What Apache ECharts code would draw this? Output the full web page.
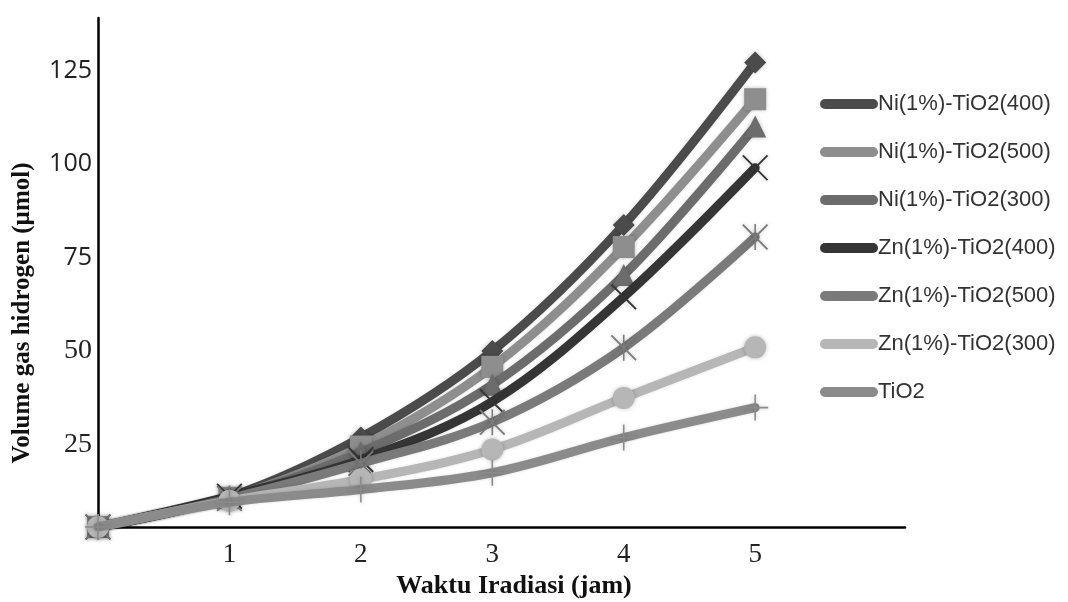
<!DOCTYPE html>
<html>
<head>
<meta charset="utf-8">
<script src="https://cdn.jsdelivr.net/npm/echarts@6/dist/echarts.min.js"></script>
<style>html,body{margin:0;padding:0;background:#fff}#c{width:1068px;height:602px}</style>
</head>
<body>
<div id="c"></div>
<script>
var hours = [0, 1, 2, 3, 4, 5];
var xTickLabels = [1, 2, 3, 4, 5];
var yTickLabels = [25, 50, 75, 100, 125];
var seriesNames = ['Ni(1%)-TiO2(400)', 'Ni(1%)-TiO2(500)', 'Ni(1%)-TiO2(300)', 'Zn(1%)-TiO2(400)', 'Zn(1%)-TiO2(500)', 'Zn(1%)-TiO2(300)', 'TiO2'];
var ni400 = [3, 11.0, 26.9, 50.0, 83.7, 127.1];
var ni500 = [3, 10.8, 24.5, 45.8, 77.8, 117.3];
var ni300 = [3, 10.8, 23.0, 41.0, 70.3, 110.0];
var zn400 = [3, 11.2, 21.0, 36.5, 64.5, 99.0];
var zn500 = [3, 10.6, 20.0, 31.0, 50.9, 80.5];
var zn300 = [3, 10.0, 15.7, 23.7, 37.5, 51.0];
var tio2 = [3, 9.6, 13.0, 17.5, 26.9, 34.9];

var seriesValues = [ni400, ni500, ni300, zn400, zn500, zn300, tio2];
var colors = ['#4b4b4b', '#8e8e8e', '#6c6c6c', '#353535', '#7a7a7a', '#b6b6b6', '#8b8b8b'];
var X = 'path://M0,5 L5,0 L50,45 L95,0 L100,5 L55,50 L100,95 L95,100 L50,55 L5,100 L0,95 L45,50 Z';
var AST = 'path://M0,5 L5,0 L50,45 L95,0 L100,5 L55,50 L100,95 L95,100 L50,55 L5,100 L0,95 L45,50 Z M47,0 L53,0 L53,100 L47,100 Z';
var PLUS = 'path://M47,0 L53,0 L53,47 L100,47 L100,53 L53,53 L53,100 L47,100 L47,53 L0,53 L0,47 L47,47 Z';
var symbols = ['diamond', 'rect', 'triangle', X, AST, 'circle', PLUS];
var symbolSizes = [22, 22, 22, 26, 26, 22, 26];

var chart = echarts.init(document.getElementById('c'), null, {renderer: 'canvas'});
var series = seriesNames.map(function (name, i) {
  return {
    name: name,
    type: 'line',
    smooth: 0.35,
    data: hours.map(function (h, j) { return [h, seriesValues[i][j]]; }),
    symbol: symbols[i],
    symbolSize: symbolSizes[i],
    showAllSymbol: true,
    lineStyle: {color: colors[i], width: 9, cap: 'round', shadowColor: 'rgba(0,0,0,0.15)', shadowBlur: 3},
    itemStyle: {color: colors[i], shadowColor: 'rgba(0,0,0,0.25)', shadowBlur: 4},
    emphasis: {disabled: true},
    z: 2 + i
  };
});

chart.setOption({
  animation: false,
  backgroundColor: '#ffffff',
  grid: {left: 98, right: 163, top: 18, bottom: 75, containLabel: false},
  xAxis: {
    type: 'value', min: 0, max: 6.14,
    axisLine: {show: true, onZero: false, lineStyle: {color: '#000', width: 2.5}},
    axisTick: {show: false},
    splitLine: {show: false},
    axisLabel: {
      customValues: xTickLabels, margin: 14,
      fontFamily: 'Liberation Serif', fontSize: 27, color: '#222'
    }
  },
  yAxis: {
    type: 'value', min: 3, max: 139,
    axisLine: {show: true, onZero: false, lineStyle: {color: '#000', width: 2.5}},
    axisTick: {show: false},
    splitLine: {show: false},
    axisLabel: {
      customValues: yTickLabels, margin: 6,
      formatter: function (v) { return v >= 75 ? '{s|' + v + '}' : '{t|' + v + '}'; },
      rich: {
        s: {fontFamily: 'Open Sans', fontSize: 25, color: '#222'},
        t: {fontFamily: 'Liberation Serif', fontSize: 28, color: '#222'}
      }
    }
  },
  legend: {
    orient: 'vertical', left: 815, top: 88,
    itemWidth: 48, itemHeight: 12, itemGap: 26,
    lineStyle: {width: 10, cap: 'round'},
    textStyle: {fontFamily: 'Liberation Sans', fontSize: 22, color: '#333'},
    data: seriesNames
  },
  graphic: [
    {type: 'text', x: 514, y: 586, style: {text: 'Waktu Iradiasi (jam)', fontFamily: 'Liberation Serif', fontWeight: 'bold', fontSize: 26, fill: '#111', align: 'center', verticalAlign: 'middle'}},
    {type: 'text', rotation: Math.PI / 2, x: 23, y: 313, style: {text: 'Volume gas hidrogen (µmol)', fontFamily: 'Liberation Serif', fontWeight: 'bold', fontSize: 25, fill: '#111', align: 'center', verticalAlign: 'middle'}}
  ],
  series: series
});
</script>
</body>
</html>
